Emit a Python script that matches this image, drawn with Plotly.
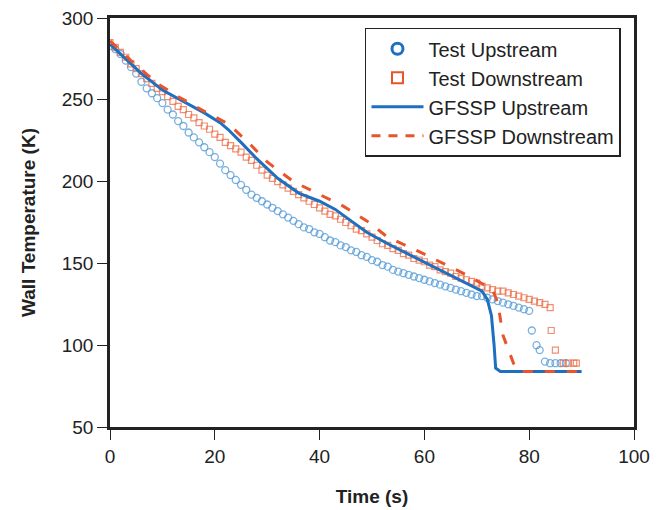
import plotly.graph_objects as go

# ---- data ----
test_up_t = list(range(0, 81)) + [80.5, 81.4, 82.0, 83.0, 84.0, 85.0, 86.0, 87.0]
test_up_T = [283, 281, 278, 274, 270, 266, 261, 257, 254, 251,
             248, 244, 241, 237, 234, 230, 227, 224, 221, 218,
             215, 211, 207, 204, 201, 198, 195, 192, 190, 188,
             186, 184, 182, 180, 178, 176, 174, 172, 171, 169,
             168, 166, 164, 163, 161, 160, 158, 157, 155, 154,
             152, 151, 149, 148, 146, 145, 144, 143, 142, 141,
             140, 139, 138, 137, 136, 135, 134, 133, 132, 131,
             130, 130, 129, 128, 127, 126, 125, 124, 123, 122,
             121, 109, 100, 97, 90, 89, 89, 89, 89]

test_dn_t = list(range(0, 85)) + [84.2, 85.0, 86.5, 87.5, 88.5, 89.0]
test_dn_T = [285, 282, 279, 276, 272, 269, 266, 263, 260, 257,
             255, 252, 249, 246, 244, 241, 239, 236, 234, 232,
             229, 227, 224, 222, 220, 218, 215, 213, 210, 207,
             204, 202, 200, 198, 196, 194, 192, 190, 188, 186,
             184, 182, 180, 179, 177, 175, 173, 171, 170, 168,
             166, 164, 162, 161, 159, 158, 156, 155, 153, 152,
             151, 149, 148, 146, 145, 144, 142, 141, 140, 139,
             138, 136, 135, 134, 133, 133, 132, 131, 130, 129,
             128, 127, 126, 125, 123, 109, 97, 89, 89, 89, 89]

gf_up_t = [0, 3, 6, 10, 14, 18, 21, 22.5, 25, 28, 32, 36, 40, 43, 46, 49, 53, 58, 63, 68, 71, 72, 72.8, 73.3, 73.6, 74.5, 90]
gf_up_T = [284, 275, 266, 256, 249, 242, 236, 232, 224, 214, 202, 193, 188, 183, 176, 169, 162, 154, 146, 138, 133, 128, 118, 100, 86, 84, 84]

gf_dn_t = [0, 4, 9, 13.5, 18, 22.7, 27, 30, 35, 39.5, 44.5, 49, 53, 58.5, 63, 68, 73, 74, 75, 77, 78.2, 90]
gf_dn_T = [286, 274, 260, 251, 243, 235, 222, 212, 200, 193, 185, 176, 166, 158, 151, 143, 134, 126, 106, 89, 84, 84]

names = ["Test Upstream", "Test Downstream", "GFSSP Upstream", "GFSSP Downstream"]

BLUE = "#1f6fc0"
ORANGE = "#e8542b"

fig = go.Figure()

# data traces
fig.add_trace(go.Scatter(x=test_up_t, y=test_up_T, mode="markers", showlegend=False,
                         marker=dict(symbol="circle-open", size=7, color="rgba(75,150,212,0.75)",
                                     line=dict(width=1.3))))
fig.add_trace(go.Scatter(x=test_dn_t, y=test_dn_T, mode="markers", showlegend=False,
                         marker=dict(symbol="square-open", size=6, color="rgba(235,105,65,0.75)",
                                     line=dict(width=1.2))))
fig.add_trace(go.Scatter(x=gf_up_t, y=gf_up_T, mode="lines", showlegend=False,
                         line=dict(color=BLUE, width=3)))
fig.add_trace(go.Scatter(x=gf_dn_t, y=gf_dn_T, mode="lines", showlegend=False,
                         line=dict(color=ORANGE, width=3, dash="10px,12px")))

# legend entries
fig.add_trace(go.Scatter(x=[None], y=[None], mode="markers", name=names[0],
                         marker=dict(symbol="circle-open", size=11, color=BLUE, line=dict(width=3))))
fig.add_trace(go.Scatter(x=[None], y=[None], mode="markers", name=names[1],
                         marker=dict(symbol="square-open", size=11, color=ORANGE, line=dict(width=2))))
fig.add_trace(go.Scatter(x=[None], y=[None], mode="lines", name=names[2],
                         line=dict(color=BLUE, width=3)))
fig.add_trace(go.Scatter(x=[None], y=[None], mode="lines", name=names[3],
                         line=dict(color=ORANGE, width=3, dash="9px,8px")))

FONT = "Liberation Sans, Arial, sans-serif"

fig.update_layout(
    width=653, height=502,
    margin=dict(l=102, r=27, t=10, b=83, autoexpand=False),
    paper_bgcolor="white", plot_bgcolor="white",
    font=dict(family=FONT, color="#222222", size=19),
    legend=dict(x=0.4866, y=0.976, xanchor="left", yanchor="top",
                bordercolor="#222222", borderwidth=1.5, bgcolor="white",
                font=dict(size=20, family=FONT, color="#222222"),
                itemwidth=52, tracegroupgap=0),
)

fig.update_xaxes(range=[0, 100], tickvals=[0, 20, 40, 60, 80, 100],
                 showline=True, linewidth=2.5, linecolor="#222222", mirror=True,
                 ticks="outside", ticklen=10, tickwidth=1.2, tickcolor="#222222",
                 showgrid=False, zeroline=False, automargin=False, ticklabeloverflow="allow",
                 tickfont=dict(size=19, family=FONT),
                 title=dict(text="<b>Time (s)</b>", font=dict(size=19, family=FONT), standoff=25))
fig.update_yaxes(range=[50, 300], tickvals=[50, 100, 150, 200, 250, 300],
                 showline=True, linewidth=2.5, linecolor="#222222", mirror=True,
                 ticks="outside", ticklen=10, tickwidth=1.2, tickcolor="#222222",
                 showgrid=False, zeroline=False, automargin=False, ticklabeloverflow="allow",
                 tickfont=dict(size=19, family=FONT),
                 title=dict(text="<b>Wall Temperature (K)</b>", font=dict(size=19, family=FONT), standoff=22))

fig.write_html("out.html")
